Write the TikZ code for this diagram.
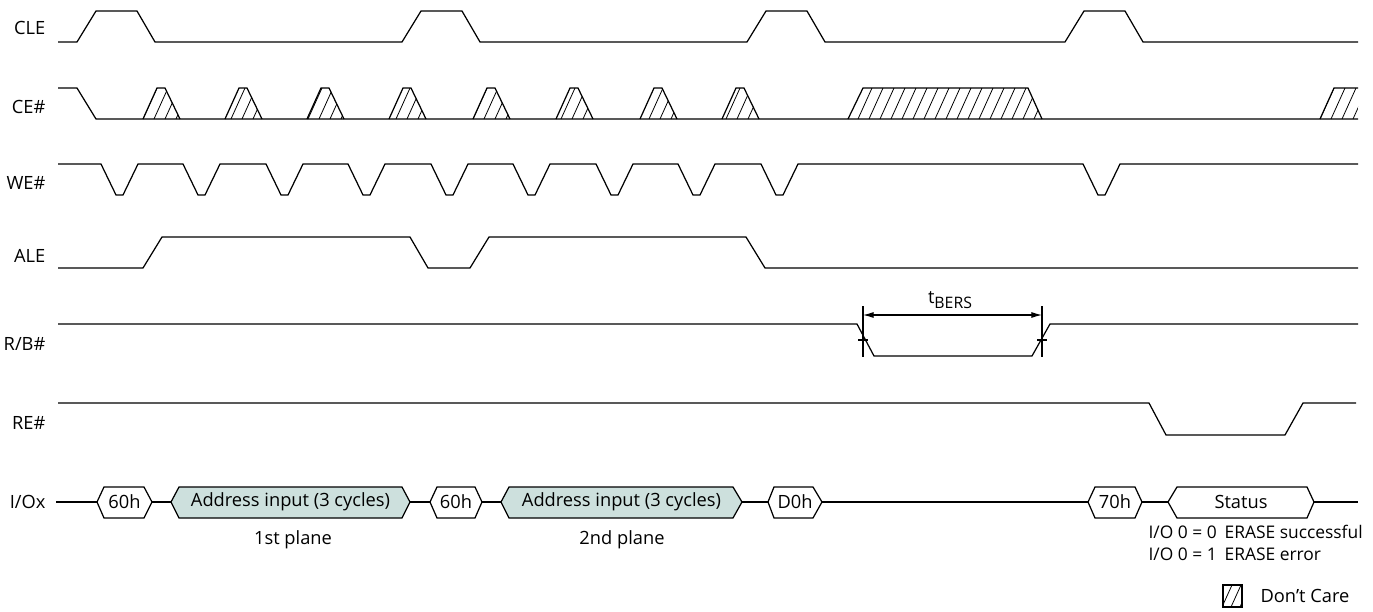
\documentclass[tikz,border=0pt]{standalone}
\usepackage{fontspec}
\setmainfont{Open Sans}
\usetikzlibrary{arrows.meta,positioning}
\definecolor{addrfill}{RGB}{205,224,221}

\begin{document}
\begin{tikzpicture}[x=0.02cm, y=-0.02cm, line width=0.7pt
    , every node/.style = {font=\fontsize{10.4}{12.5}\selectfont, inner sep=0pt}
    , siglabel/.style = {anchor=east}
    , note/.style = {anchor=west, font=\fontsize{9.9}{12}\selectfont}
    , hatch/.style = {line width=0.45pt}
    , dim/.style = {line width=0.6pt}
]
\useasboundingbox (0,0) rectangle (1373,612);

\foreach \s/\y [count=\j] in {CLE/28, CE\#/107, WE\#/183, ALE/256, {R/B\#}/344, RE\#/423, {I/Ox}/502}
    \node[siglabel] (sig\j) at (46,\y) {\s};

% CLE
\draw (58,42) \foreach \r in {77,402,747,1065} { -- (\r,42) -- ++(19,-31) -- ++(41,0) -- ++(18,31) } -- (1358,42);

% CE#
\draw (58,88) -- (77,88) -- (96,119) -- (1358,119);
\foreach \b in {143,225,307,389,473,556,640,722}
    \draw (\b,119) -- ++(14,-31) -- ++(8,0) -- ++(15,31);
\draw (848,119) -- (863,88) -- (1028,88) -- (1042,119);
\draw (1320,119) -- (1334,88) -- (1358,88);
\begin{scope}
    \clip \foreach \b in {143,225,307,389,473,556,640,722} { (\b,119) -- ++(14,-31) -- ++(8,0) -- ++(15,31) -- cycle }
        (848,119) -- (863,88) -- (1028,88) -- (1042,119) -- cycle
        (1320,119) -- (1334,88) -- (1358,88) -- (1358,119) -- cycle;
    \foreach \k in {12,...,124}
        \draw[hatch] (11*\k,119) -- ++(14,-31);
\end{scope}

% WE#
\draw (58,164) \foreach \f in {101,183,266,348,431,513,596,678,761,1083} { -- (\f,164) -- ++(15,31) -- ++(7,0) -- ++(15,-31) } -- (1358,164);

% ALE
\draw (58,268) -- (143,268) -- (162,237) -- (410,237) -- (428,268) -- (470,268) -- (489,237) -- (746,237) -- (765,268) -- (1358,268);

% R/B#
\draw (58,324) -- (857,324) -- (874,356) -- (1032,356) -- (1050,324) -- (1358,324);
\coordinate (bersL) at (863,315);
\coordinate (bersR) at (1042,315);
\foreach \c in {bersL,bersR} {
    \draw[dim] (\c) ++(0,-9) -- ++(0,51);
    \draw[dim] (\c) ++(-5,25) -- ++(10,0);
}
\draw[dim, {Latex[length=6pt,width=3.4pt]}-{Latex[length=6pt,width=3.4pt]}] (bersL) -- (bersR);
\node (tbers) at (950,300) {t\raisebox{-0.45ex}{\fontsize{9}{10}\selectfont BERS}};

% RE#
\draw (58,403) -- (1149,403) -- (1166,435) -- (1285,435) -- (1303,403) -- (1356,403);

% I/Ox
\coordinate (busL) at (56,502);
\coordinate (busR) at (1358,502);
\foreach \a/\b/\c/\d/\t/\f/\n in {97/104/144/152/60h/white/cmdA, 171/179/402/410/{Address input (3 cycles)}/addrfill/addrA, 430/437/475/482/60h/white/cmdB, 501/509/733/742/{Address input (3 cycles)}/addrfill/addrB, 768/774/813/822/D0h/white/cmdC, 1088/1095/1135/1142/70h/white/cmdD, 1168/1177/1307/1314/Status/white/stat} {
    \draw[fill=\f] (\a,502) coordinate (\n-l) -- (\b,487) -- (\c,487) -- (\d,502) coordinate (\n-r) -- (\c,518) -- (\b,518) -- cycle;
    \node (\n) at ({(\a+\d)/2},502) {\t};
}
\foreach \p/\q in {busL/cmdA-l, cmdA-r/addrA-l, addrA-r/cmdB-l, cmdB-r/addrB-l, addrB-r/cmdC-l, cmdC-r/cmdD-l, cmdD-r/stat-l, stat-r/busR}
    \draw (\p) -- (\q);
\node (planeA) at (293,540) {1st plane};
\node (planeB) at (622,540) {2nd plane};
\node[note] (passA) at (1148,532) {I/O 0 = 0\hspace{0.45em}ERASE successful};
\node[note] (passB) at (1148,554) {I/O 0 = 1\hspace{0.45em}ERASE error};

% legend
\draw (1223,585) rectangle (1242,607);
\begin{scope}
    \clip (1223,585) rectangle (1242,607);
    \foreach \k in {0,...,3}
        \draw[hatch] (1213+9*\k,607) -- ++(10,-22);
\end{scope}
\node[anchor=west] (dcare) at (1260,596) {Don’t Care};
\end{tikzpicture}
\end{document}
